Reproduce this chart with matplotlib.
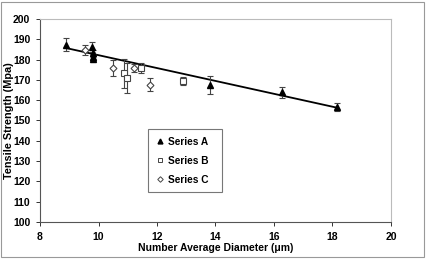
import numpy as np
import matplotlib
matplotlib.use("Agg")
import matplotlib.pyplot as plt
from matplotlib.patches import Rectangle
from matplotlib.lines import Line2D

plt.rcParams['font.family'] = ['Liberation Sans', 'DejaVu Sans']

# series A (filled triangles)
a_x = [8.9, 9.77, 9.8, 9.8, 9.8, 13.8, 16.28, 18.15]
a_y = [187.2, 186.0, 183.0, 181.3, 180.2, 167.3, 163.9, 156.5]
a_err = [3.2, 2.5, 1.5, 1.5, 1.0, 4.5, 2.7, 2.0]

# series B (open squares)
b_x = [10.87, 10.99, 11.44, 12.88]
b_y = [173.2, 170.8, 175.7, 169.5]
b_err = [7.0, 7.3, 2.5, 2.0]

# series C (open diamonds)
c_x = [9.54, 10.5, 11.22, 11.76]
c_y = [184.7, 175.7, 175.7, 167.5]
c_err = [2.5, 4.0, 2.0, 3.2]

fig = plt.figure(figsize=(4.28, 2.59), dpi=100)
ax = fig.add_axes([0.0935, 0.143, 0.82, 0.784])

eb = dict(ecolor='#444444', elinewidth=0.8, capsize=2, capthick=0.8, zorder=3)
ax.errorbar(a_x, a_y, yerr=a_err, fmt='^', color='black', ms=4.5, **eb)
ax.errorbar(b_x, b_y, yerr=b_err, fmt='s', mfc='white', mec='#444444', ms=5,
            mew=0.8, **eb)
ax.errorbar(c_x, c_y, yerr=c_err, fmt='D', mfc='white', mec='#444444', ms=3.5,
            mew=0.8, **eb)

# linear trend for series A
k, b = np.polyfit(a_x, a_y, 1)
xs = np.array([min(a_x), max(a_x)])
ax.plot(xs, k * xs + b, color='black', lw=1.3, zorder=2)

ax.set_xlim(8, 20)
ax.set_ylim(100, 200)
ax.set_xticks(range(8, 21, 2))
ax.set_yticks(range(100, 201, 10))
ax.tick_params(direction='out', length=3, width=0.7, labelsize=7.5, pad=4,
               colors='#333333', labelcolor='black')
for lbl in ax.get_xticklabels() + ax.get_yticklabels():
    lbl.set_fontweight('bold')

ax.spines['left'].set_color('#555555')
ax.spines['bottom'].set_color('#555555')
ax.spines['top'].set_color('#bbbbbb')
ax.spines['right'].set_color('#bbbbbb')
for s in ax.spines.values():
    s.set_linewidth(0.8)

ax.set_xlabel('Number Average Diameter (\u03bcm)', fontsize=7.5, fontweight='bold', labelpad=1)
ax.set_ylabel('Tensile Strength (Mpa)', fontsize=7.8, fontweight='bold')
ax.yaxis.set_label_coords(-0.074, 0.5)

handles = [
    Line2D([], [], ls='none', marker='^', color='black', ms=3.5),
    Line2D([], [], ls='none', marker='s', mfc='white', mec='#444444', ms=3.5, mew=0.7),
    Line2D([], [], ls='none', marker='D', mfc='white', mec='#444444', ms=2.8, mew=0.7),
]
leg = ax.legend(handles, ['Series A', 'Series B', 'Series C'],
                loc='lower left', bbox_to_anchor=(0.308, 0.148, 0.21, 0.30), mode='expand',
                prop={'weight': 'bold', 'size': 7.3}, frameon=True, fancybox=False,
                edgecolor='#555555', handletextpad=0.3, labelspacing=0.9,
                borderpad=0.7, handlelength=1.0, borderaxespad=0)
leg.get_frame().set_linewidth(0.8)

fig.patches.append(Rectangle((0.003, 0.006), 0.988, 0.988, transform=fig.transFigure,
                             fill=False, edgecolor='#999999', lw=0.8))

fig.savefig('out.png', dpi=100)
